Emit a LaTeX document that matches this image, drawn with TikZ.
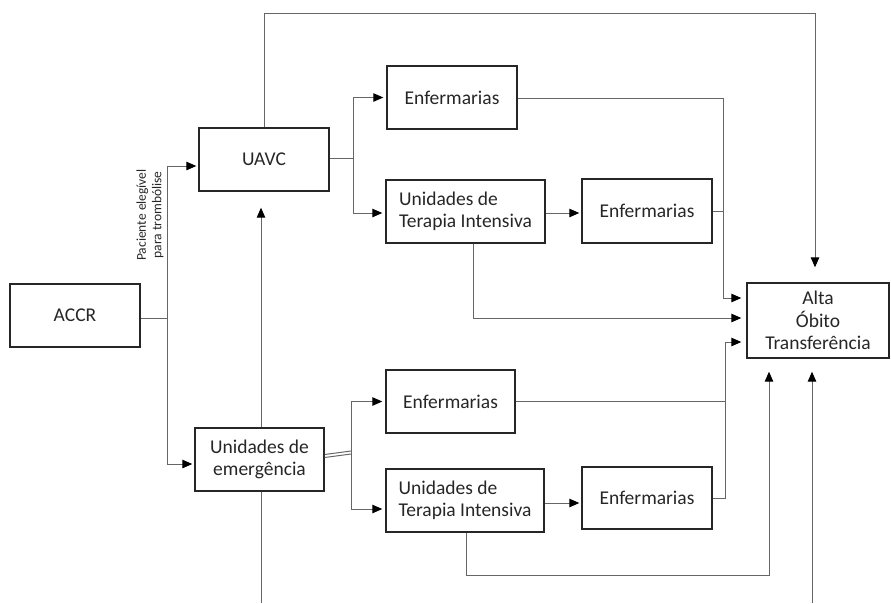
\documentclass[tikz,border=0pt]{standalone}
\usepackage{fontspec}
\setmainfont{Carlito}
\usetikzlibrary{arrows.meta}
\begin{document}
\begin{tikzpicture}[x=1pt,y=-1pt,
  box/.style={draw=black!85, line width=1.4pt, inner sep=0pt, font=\fontsize{19.5}{22.5}\selectfont, text=black!85},
  conn/.style={draw=black!60, line width=1pt},
  arr/.style={conn, -{Triangle[length=10pt,width=8.5pt,color=black]}}]
\useasboundingbox (0,0) rectangle (891,603);
% nodes
\node[box, minimum width=130pt, minimum height=63pt] (accr) at (75,315.5) {ACCR};
\node[box, minimum width=130pt, minimum height=63pt] (uavc) at (264,159.5) {UAVC};
\node[box, minimum width=130pt, minimum height=63pt] (enfu) at (452,97.5) {Enfermarias};
\node[box, minimum width=159pt, minimum height=63pt, align=left] (utiu) at (465.5,211.5) {Unidades de\\Terapia Intensiva};
\node[box, minimum width=130pt, minimum height=64pt] (enfur) at (647,211) {Enfermarias};
\node[box, minimum width=142pt, minimum height=75pt, align=center] (alta) at (818,320.5) {Alta\\Óbito\\Transferência};
\node[box, minimum width=129pt, minimum height=63pt, align=center] (emerg) at (259.5,459.5) {Unidades de\\emergência};
\node[box, minimum width=129pt, minimum height=63pt] (enfl) at (450.5,401.5) {Enfermarias};
\node[box, minimum width=158pt, minimum height=63pt, align=left] (util) at (465,500.5) {Unidades de\\Terapia Intensiva};
\node[box, minimum width=130pt, minimum height=62pt] (enflr) at (647,498) {Enfermarias};
\node[rotate=90, align=center, font=\fontsize{13.5}{15.5}\selectfont, text=black!85] (lbl) at (150,215) {Paciente elegível\\para trombólise};
% coordinates
\coordinate (br) at (167,318);
\coordinate (bu) at (353,158);
\coordinate (bl) at (351,456);
\coordinate (top) at (815,13);
\coordinate (vr) at (723,298);
\coordinate (vl) at (725,342);
\coordinate (low) at (769,575);
\coordinate (bot1) at (261,603);
\coordinate (bot2) at (812,603);
% ACCR branches
\draw[conn] (accr.east |- br) -- (br);
\draw[arr, shorten >=2pt] (br) |- ([yshift=-6.5pt]uavc.west);
\draw[arr, shorten >=2pt] (br) |- ([yshift=-4.5pt]emerg.west);
% UAVC to top to Alta
\draw[arr, shorten >=15pt] (uavc.north) |- (top) -- (top |- alta.north);
% UAVC branches
\draw[conn] (uavc.east |- bu) -- (bu);
\draw[arr, shorten >=3pt] (bu) |- (enfu.west);
\draw[arr, shorten >=3pt] (bu) |- ([yshift=-1.5pt]utiu.west);
\draw[arr, shorten >=2pt] ([yshift=-1.5pt]utiu.east) -- ([yshift=-2pt]enfur.west);
% to Alta
\draw[arr, shorten >=5pt] ([yshift=-0.5pt]enfu.east) -| (vr) -- (vr -| alta.west);
\draw[conn] (enfur.east) -- (enfur.east -| vr);
\draw[arr, shorten >=5pt] ([xshift=7.5pt]utiu.south) |- ([yshift=2.5pt]alta.west);
% emergencia
\draw[arr, shorten >=16pt] ([xshift=1.5pt]emerg.north) -- ([xshift=1.5pt]emerg.north |- uavc.south);
\draw[conn] ([xshift=1.5pt]emerg.south) -- (bot1);
\draw[conn] ([yshift=5pt]emerg.east) -- ([yshift=5pt]bl);
\draw[conn] ([yshift=2pt]emerg.east) -- ([yshift=2pt]bl);
\draw[arr, shorten >=3pt] (bl) |- (enfl.west);
\draw[arr, shorten >=3pt] (bl) |- ([yshift=-8.5pt]util.west);
\draw[arr, shorten >=2pt] ([yshift=-2.5pt]util.east) -- ([yshift=-5pt]enflr.west);
\draw[conn] (enfl.east) -- (enfl.east -| vl);
\draw[conn] (enflr.east) -- (enflr.east -| vl) -- (vl);
\draw[arr, shorten >=5pt] (vl) -- (vl -| alta.west);
\draw[arr, shorten >=13pt] ([xshift=1pt]util.south) |- (low) -- (low |- alta.south);
\draw[arr, shorten >=13pt] (bot2) -- (bot2 |- alta.south);
\end{tikzpicture}
\end{document}
